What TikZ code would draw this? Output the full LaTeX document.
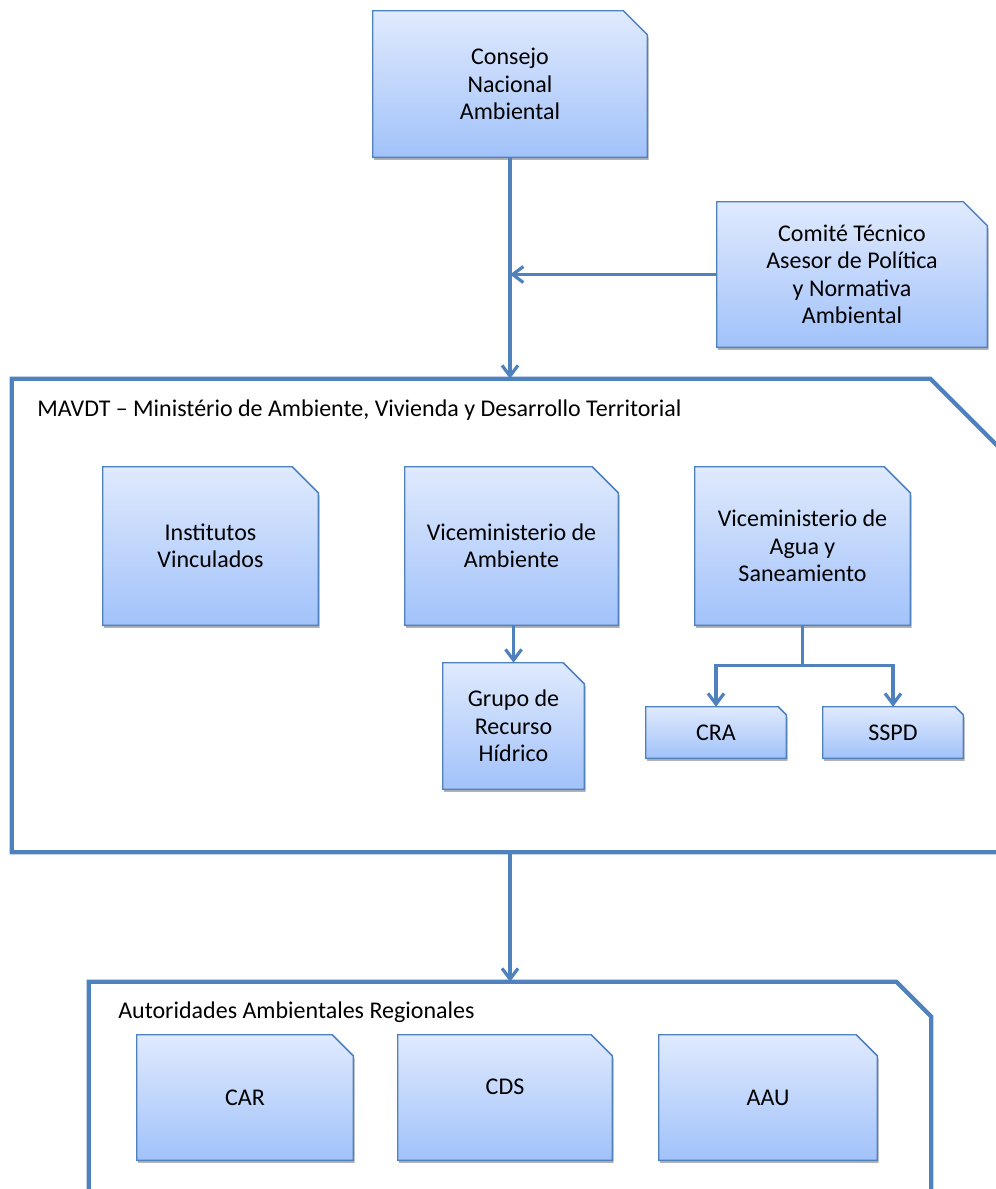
\documentclass[tikz,border=0pt]{standalone}
\usepackage{fontspec}
\setmainfont{Carlito}
\usetikzlibrary{shadows,arrows.meta,backgrounds}

\definecolor{lineblue}{RGB}{79,129,189}
\definecolor{boxtop}{RGB}{224,234,253}
\definecolor{boxbottom}{RGB}{161,194,250}

\tikzset{
  snipbox/.style={rectangle, inner sep=0pt, align=center},
  boxpaint/.style={draw=lineblue, line width=1.1pt, top color=boxtop, bottom color=boxbottom,
    drop shadow={shadow xshift=1pt, shadow yshift=-2pt, opacity=.3, fill=black}},
  frameline/.style={draw=lineblue, line width=3.2pt, line join=miter},
  link/.style={draw=lineblue, line width=2.4pt, -{Straight Barb[length=8pt,width=12pt]}},
}

\begin{document}
\begin{tikzpicture}[x=0.75pt, y=-0.75pt, font=\fontsize{18}{20.6}\selectfont]
  \clip (0,0) rectangle (996,1189);

  % Top level
  \node[snipbox, minimum width=274*0.75pt, minimum height=146*0.75pt] (consejo) at (510,84) {Consejo\\Nacional\\Ambiental};
  \node[snipbox, minimum width=270*0.75pt, minimum height=145*0.75pt] (comite) at (852,274.5) {Comité Técnico\\Asesor de Política\\y Normativa\\Ambiental};

  % Ministry frame
  \node[snipbox, minimum width=996*0.75pt, minimum height=473*0.75pt] (mavdt) at (510,615.5) {};
  \node[anchor=west, inner sep=0pt] (mavdtlabel) at (37,410) {MAVDT – Ministério de Ambiente, Vivienda y Desarrollo Territorial};

  \node[snipbox, minimum width=215*0.75pt, minimum height=158*0.75pt] (institutos) at (210.5,546) {Institutos\\Vinculados};
  \node[snipbox, minimum width=213*0.75pt, minimum height=158*0.75pt] (viceamb) at (511.5,546) {Viceministerio de\\Ambiente};
  \node[snipbox, minimum width=215*0.75pt, minimum height=158*0.75pt] (viceagua) at (802.5,546) {Viceministerio de\\Agua y\\Saneamiento};
  \node[snipbox, minimum width=141*0.75pt, minimum height=126*0.75pt] (grupo) at (513.5,726) {Grupo de\\Recurso\\Hídrico};
  \node[snipbox, minimum width=140*0.75pt, minimum height=51*0.75pt] (cra) at (716,732.5) {CRA};
  \node[snipbox, minimum width=140*0.75pt, minimum height=51*0.75pt] (sspd) at (893,732.5) {SSPD};

  % Regional frame
  \node[snipbox, minimum width=842*0.75pt, minimum height=218*0.75pt] (regionales) at (510,1091) {};
  \node[anchor=west, inner sep=0pt] (reglabel) at (118,1012) {Autoridades Ambientales Regionales};

  \node[snipbox, minimum width=216*0.75pt, minimum height=125*0.75pt] (car) at (245,1097.5) {CAR};
  \node[snipbox, minimum width=214*0.75pt, minimum height=125*0.75pt, text depth=16pt] (cds) at (505,1097.5) {CDS};
  \node[snipbox, minimum width=218*0.75pt, minimum height=125*0.75pt] (aau) at (768,1097.5) {AAU};

  % Snipped boxes behind the texts
  \begin{pgfonlayer}{background}
    \foreach \n/\s in {consejo/24, comite/24, institutos/26, viceamb/26, viceagua/26, grupo/21, cra/8, sspd/8, car/21, cds/21, aau/21}
      \path[boxpaint] (\n.south west) -- (\n.north west) -- ([xshift=-\s*0.75pt]\n.north east)
        -- ([yshift=-\s*0.75pt]\n.north east) -- (\n.south east) -- cycle;
  \end{pgfonlayer}

  % Frames
  \foreach \n/\s in {mavdt/78, regionales/35}
    \draw[frameline] (\n.south west) -- (\n.north west) -- ([xshift=-\s*0.75pt]\n.north east)
      -- ([yshift=-\s*0.75pt]\n.north east) -- (\n.south east) -- cycle;

  % Connectors
  \draw[link] (consejo.south) -- (consejo.south |- mavdt.north);
  \draw[link] (comite.west) -- (consejo.south |- comite.west);
  \draw[link] (viceamb.south -| grupo.north) -- (grupo.north);
  \coordinate (aguasplit) at ([yshift=-30pt]viceagua.south);
  \draw[link] (viceagua.south) -- (aguasplit) -| (cra.north);
  \draw[link] (aguasplit) -| (sspd.north);
  \draw[link] (mavdt.south -| consejo.south) -- (consejo.south |- regionales.north);
\end{tikzpicture}
\end{document}
